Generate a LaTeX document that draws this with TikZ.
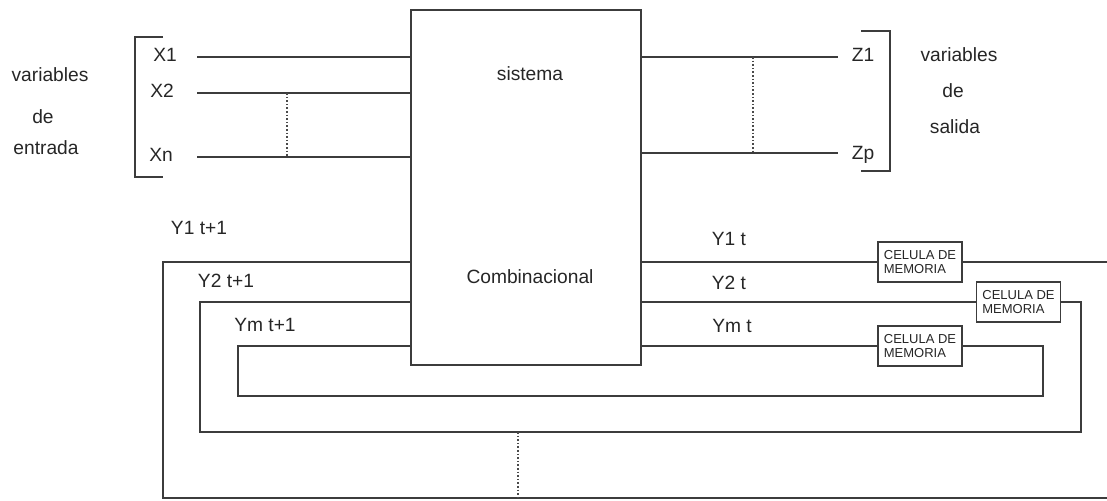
\documentclass[tikz,border=0pt]{standalone}
\usepackage{fontspec}
\setmainfont{Liberation Sans}
\definecolor{wiregray}{HTML}{3C3C3C}
\definecolor{dotgray}{HTML}{4A4A4A}
\definecolor{inkgray}{HTML}{262626}

\begin{document}
\begin{tikzpicture}[x=0.5pt,y=-0.5pt,font=\fontsize{9.6}{11}\selectfont,
  wire/.style={draw=wiregray,line width=0.8pt},
  dots/.style={draw=dotgray,line width=0.8pt,densely dotted},
  txt/.style={text=inkgray,inner sep=0pt},
  cell/.style={draw=wiregray,fill=white,line width=0.8pt,minimum width=42pt,minimum height=20pt,
    inner sep=1pt,align=left,text=inkgray,font=\fontsize{6.5}{7}\selectfont}]
  \useasboundingbox (0,0) rectangle (1107,500);

  % combinational block
  \node[draw=wiregray,line width=0.8pt,minimum width=115pt,minimum height=177.5pt,inner sep=0pt] (sys) at (526,187.5) {};
  \node[txt] (sist) at (530,74) {sistema};
  \node[txt] (comb) at (530,277) {Combinacional};

  % inputs
  \node[txt] (x1) at (165,55) {X1};
  \node[txt] (x2) at (162,91) {X2};
  \node[txt] (xn) at (161,155) {Xn};
  \coordinate (x1s) at (197,57);
  \coordinate (x2s) at (197,93);
  \coordinate (xns) at (197,157);
  \draw[wire] (x1s) -- (x1s -| sys.west);
  \draw[wire] (x2s) -- (x2s -| sys.west);
  \draw[wire] (xns) -- (xns -| sys.west);
  \coordinate (x2d) at (287,93);
  \coordinate (xnd) at (287,157);
  \draw[dots] (x2d) -- (xnd);
  \coordinate (lbt) at (135,37);
  \coordinate (lbb) at (135,177);
  \draw[wire] ([xshift=14pt]lbt) -- (lbt) -- (lbb) -- ([xshift=14pt]lbb);
  \node[txt] (inA) at (50,75) {variables};
  \node[txt] (inB) at (43,117) {de};
  \node[txt] (inC) at (46,148) {entrada};

  % outputs
  \node[txt] (z1) at (863,55) {Z1};
  \node[txt] (zp) at (863,155) {Zp};
  \coordinate (z1e) at (838,57);
  \coordinate (zpe) at (838,153);
  \draw[wire] (z1e -| sys.east) -- (z1e);
  \draw[wire] (zpe -| sys.east) -- (zpe);
  \coordinate (z1d) at (753,57);
  \coordinate (zpd) at (753,153);
  \draw[dots] (z1d) -- (zpd);
  \coordinate (rbt) at (890,31);
  \coordinate (rbb) at (890,171);
  \draw[wire] ([xshift=-14.5pt]rbt) -- (rbt) -- (rbb) -- ([xshift=-14.5pt]rbb);
  \node[txt] (outA) at (959,55) {variables};
  \node[txt] (outB) at (953,91) {de};
  \node[txt] (outC) at (955,127) {salida};

  % memory cells
  \node[cell] (memA) at (920,262) {CELULA DE\\MEMORIA};
  \node[cell] (memB) at (1018.5,302) {CELULA DE\\MEMORIA};
  \node[cell] (memC) at (920,346) {CELULA DE\\MEMORIA};

  % state labels
  \node[txt] (y1n) at (199,228) {Y1 t+1};
  \node[txt] (y2n) at (226,281) {Y2 t+1};
  \node[txt] (ymn) at (265,325) {Ym t+1};
  \node[txt] (y1c) at (729,239) {Y1 t};
  \node[txt] (y2c) at (729,283) {Y2 t};
  \node[txt] (ymc) at (732,326) {Ym t};

  % feedback loop 1
  \coordinate (l1a) at (163,262);
  \coordinate (l1b) at (163,498);
  \coordinate (l1c) at (1107,498);
  \coordinate (l1d) at (1107,262);
  \draw[wire] (l1a -| sys.west) -- (l1a) -- (l1b) -- (l1c);
  \draw[wire] (memA.west -| sys.east) -- (memA.west);
  \draw[wire] (memA.east) -- (l1d);

  % feedback loop 2
  \coordinate (l2a) at (200,302);
  \coordinate (l2b) at (200,432);
  \coordinate (l2c) at (1081,432);
  \coordinate (l2d) at (1081,302);
  \draw[wire] (memB.west -| sys.east) -- (memB.west);
  \draw[wire] (memB.east) -- (l2d) -- (l2c) -- (l2b) -- (l2a) -- (l2a -| sys.west);

  % feedback loop m
  \coordinate (l3a) at (238,346);
  \coordinate (l3b) at (238,396);
  \coordinate (l3c) at (1043,396);
  \coordinate (l3d) at (1043,346);
  \draw[wire] (memC.west -| sys.east) -- (memC.west);
  \draw[wire] (memC.east) -- (l3d) -- (l3c) -- (l3b) -- (l3a) -- (l3a -| sys.west);

  \coordinate (ldt) at (518,432);
  \coordinate (ldb) at (518,498);
  \draw[dots] (ldt) -- (ldb);
\end{tikzpicture}
\end{document}
